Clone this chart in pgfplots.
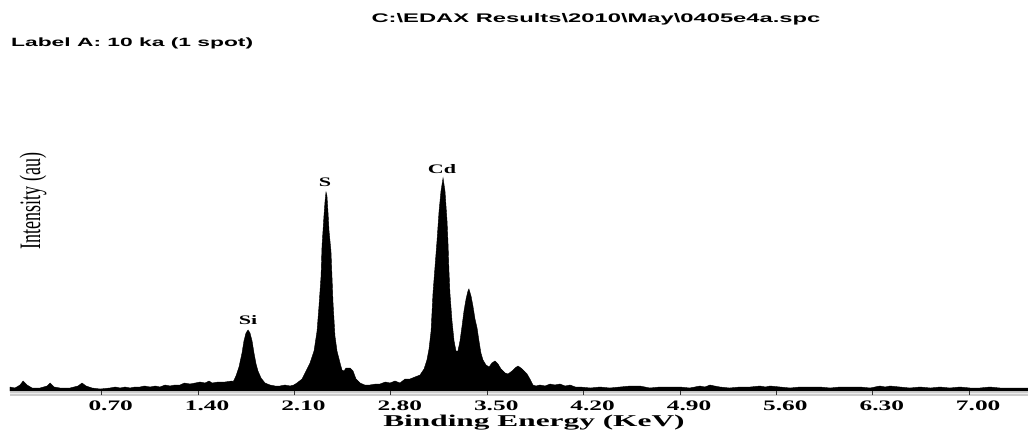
\documentclass[border=0pt]{standalone}
\usepackage{fontspec}
\usepackage{graphicx}
\usepackage{pgfplots}
\pgfplotsset{compat=1.18}
\setmainfont{Liberation Serif}
\newfontfamily\hdrfont[FakeStretch=1.9]{Liberation Sans}
\newfontfamily\tickfont[FakeStretch=1.75]{Liberation Serif}
\newfontfamily\lblfont[FakeStretch=1.9]{Liberation Serif}
\newfontfamily\pkfont[FakeStretch=1.7]{Liberation Serif}

\begin{document}
\begin{tikzpicture}[x=1pt,y=1pt]
\path[use as bounding box] (0,0) rectangle (1028,434);
\begin{axis}[
  at={(10pt,43pt)}, anchor=south west,
  scale only axis, width=1018pt, height=331pt,
  xmin=0.034, xmax=7.427, ymin=0, ymax=331,
  axis line style={draw=none},
  axis on top=true,
  ytick=\empty,
  xtick={0.7,1.4,2.1,2.8,3.5,4.2,4.9,5.6,6.3,7.0},
  xticklabels={0.70,1.40,2.10,2.80,3.50,4.20,4.90,5.60,6.30,7.00},
  xtick pos=bottom, tick align=outside,
  major tick length=4pt,
  tick style={black!80, line width=1pt},
  xticklabel style={font=\tickfont\bfseries\fontsize{14.5}{14.5}\selectfont, xshift=9pt, anchor=north, inner sep=0pt, yshift=-6pt},
  xlabel={Binding Energy (KeV)},
  xlabel style={at={(rel axis cs:0.5147,0)}, anchor=north, inner sep=0pt, yshift=-24pt, font=\lblfont\bfseries\fontsize{16.5}{16.5}\selectfont},
  clip=false,
]
\fill[gray!40] (axis cs:0.034,-1) rectangle (axis cs:7.427,-4.5);
\draw[gray!15, line width=0.8pt] (axis cs:0.034,-2.8) -- (axis cs:7.427,-2.8);
\addplot[fill=black, draw=black, line width=0.4pt] coordinates {
(0.034,4) (0.070,3) (0.107,6) (0.129,10) (0.158,6) (0.194,3) (0.252,3) (0.303,5) (0.325,8) (0.354,4)
(0.397,3) (0.470,3) (0.528,5) (0.557,8) (0.586,5) (0.630,3) (0.688,2) (0.760,3) (0.800,4) (0.833,3) (0.870,4) (0.906,3)
(0.940,4) (0.978,4) (1.010,5) (1.051,4) (1.090,5) (1.123,4) (1.160,6) (1.196,5) (1.230,6) (1.269,6) (1.300,8) (1.341,7) (1.380,8) (1.414,9) (1.450,8) (1.480,10) (1.501,8) (1.545,9)
(1.595,9) (1.646,10) (1.654,9) (1.675,15) (1.697,24) (1.719,38) (1.733,50) (1.748,58) (1.763,61) (1.777,58)
(1.792,50) (1.806,38) (1.821,27) (1.835,20) (1.857,13) (1.886,8) (1.922,6) (1.960,5) (1.995,5) (2.030,6) (2.068,5) (2.095,6) (2.118,8)
(2.155,12) (2.184,20) (2.213,28) (2.242,40) (2.264,60) (2.278,85) (2.293,115) (2.300,145) (2.314,175) (2.322,190)
(2.329,199) (2.336,195) (2.343,180) (2.351,160) (2.365,140) (2.380,88) (2.394,55) (2.409,40) (2.431,28) (2.445,21)
(2.460,20) (2.474,23) (2.503,23) (2.525,20) (2.547,12) (2.576,8) (2.610,6) (2.648,6) (2.690,7) (2.721,7) (2.760,9) (2.794,8) (2.830,10)
(2.866,8) (2.903,12) (2.939,12) (2.975,14) (3.012,16) (3.041,22) (3.062,31) (3.077,42) (3.092,60) (3.106,98)
(3.121,125) (3.135,150) (3.150,180) (3.164,200) (3.179,213) (3.193,200) (3.208,170) (3.215,148) (3.222,120) (3.229,98)
(3.244,70) (3.259,50) (3.273,40) (3.287,40) (3.302,50) (3.317,65) (3.331,80) (3.346,92) (3.360,100) (3.367,102)
(3.382,95) (3.396,85) (3.411,72) (3.426,63) (3.440,50) (3.454,38) (3.469,31) (3.491,26) (3.513,24) (3.534,28)
(3.556,30) (3.578,27) (3.600,22) (3.629,18) (3.651,17) (3.680,20) (3.702,23) (3.723,25) (3.745,23) (3.767,20)
(3.789,17) (3.810,12) (3.832,6) (3.854,5) (3.883,6) (3.920,5) (3.956,7) (3.990,6) (4.028,7) (4.065,5) (4.101,6) (4.140,4) (4.174,4) (4.250,3) (4.319,4) (4.390,3)
(4.464,4) (4.540,5) (4.609,5) (4.680,3) (4.754,4) (4.830,4) (4.900,4) (4.970,3) (5.045,5) (5.080,4) (5.118,6) (5.150,5) (5.190,4) (5.260,3) (5.335,4) (5.410,4) (5.481,5) (5.520,4) (5.554,5)
(5.626,4) (5.700,3) (5.771,4) (5.840,4) (5.916,4) (5.990,3) (6.062,4) (6.130,4) (6.207,4) (6.280,3) (6.352,5) (6.390,4) (6.425,5) (6.497,4) (6.570,3) (6.643,4) (6.720,3) (6.788,4)
(6.860,3) (6.933,4) (7.006,3) (7.078,3) (7.150,4) (7.224,3) (7.330,3) (7.427,3)
} \closedcycle;
\node[font=\pkfont\bfseries\fontsize{13}{13}\selectfont] at (axis cs:1.763,71) {Si};
\node[font=\pkfont\bfseries\fontsize{13}{13}\selectfont] at (axis cs:2.322,209) {S};
\node[font=\pkfont\bfseries\fontsize{13}{13}\selectfont] at (axis cs:3.171,221.5) {Cd};
\end{axis}
\node[anchor=base, inner sep=0pt, font=\hdrfont\bfseries\fontsize{12.5}{12.5}\selectfont] at (596,411) {C:\textbackslash EDAX Results\textbackslash 2010\textbackslash May\textbackslash 0405e4a.spc};
\node[anchor=base west, inner sep=0pt, font=\hdrfont\bfseries\fontsize{12}{12}\selectfont] at (11,387) {Label A: 10 ka (1 spot)};
\node[rotate=90, inner sep=0pt, font=\fontsize{18}{18}\selectfont] at (33,233) {\scalebox{1}[1.65]{Intensity (au)}};
\end{tikzpicture}
\end{document}
